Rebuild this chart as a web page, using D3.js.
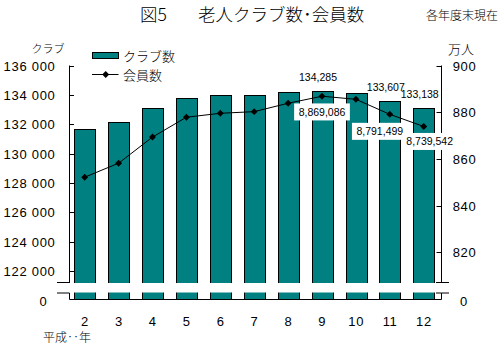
<!DOCTYPE html>
<html><head><meta charset="utf-8">
<script src="https://cdn.jsdelivr.net/npm/d3@7"></script>
<style>
html,body{margin:0;padding:0;background:#fff;}
svg{display:block;}
.num{font-family:"Liberation Sans",Arial,sans-serif;font-size:13px;letter-spacing:0.7px;fill:#000;}
.jp{font-family:"Noto Sans CJK JP",sans-serif;font-weight:300;fill:#000;}
.lab{font-family:"Liberation Sans",Arial,sans-serif;font-size:10.5px;fill:#000;}
</style></head>
<body><svg id="c" width="504" height="346"></svg>
<script>
const years = ["2","3","4","5","6","7","8","9","10","11","12"];
const clubs = [131650,132160,133095,133777,134002,134000,134216,134285,134118,133607,133138];
const members = [852.2,858.2,869.4,877.9,879.6,880.3,883.9,886.9086,885.6,879.1499,873.9542];
const leftTicks = [122000,124000,126000,128000,130000,132000,134000,136000];
const rightTicks = [820,840,860,880,900];
const clubLabels = {"9":"134,285","11":"133,607","12":"133,138"};
const memberLabels = {"9":"8,869,086","11":"8,791,499","12":"8,739,542"};

const svg = d3.select("#c");
const X0 = 69.5, X1 = 441.5, BREAK_TOP = 283, BREAK_BOT = 292.5, BASE = 299.5;

const x = d3.scaleBand().domain(years).range([67.75,440.65]).paddingInner(0.39).paddingOuter(0.195);
const yL = d3.scaleLinear().domain([122000,136000]).range([271,65.7]);
const yR = d3.scaleLinear().domain([820,900]).range([252.3,65.7]);

// Title
svg.append("text").attr("class","jp").attr("x",140).attr("y",13.5).attr("dominant-baseline","central")
  .style("font-size","17.5px").text("図5");
svg.append("text").attr("class","jp").attr("x",198).attr("y",13.5).attr("dominant-baseline","central")
  .style("font-size","17.5px").text("老人クラブ数･会員数");
svg.append("text").attr("class","jp").attr("x",498).attr("y",14).attr("text-anchor","end").attr("dominant-baseline","central")
  .style("font-size","12px").text("各年度末現在");
svg.append("text").attr("class","jp").attr("x",48).attr("y",48).attr("text-anchor","middle").attr("dominant-baseline","central")
  .style("font-size","11px").text("クラブ");
svg.append("text").attr("class","jp").attr("x",461).attr("y",48).attr("text-anchor","middle").attr("dominant-baseline","central")
  .style("font-size","13px").text("万人");

// Bars
svg.append("g").selectAll("rect").data(years).join("rect")
  .attr("x",d=>Math.round(x(d))+0.5).attr("width",Math.round(x.bandwidth()))
  .attr("y",(d,i)=>Math.round(yL(clubs[i]))+0.5)
  .attr("height",(d,i)=>BASE-(Math.round(yL(clubs[i]))+0.5))
  .attr("fill","#008080").attr("stroke","#000").attr("stroke-width",1);

// Break band
svg.append("rect").attr("x",40).attr("y",BREAK_TOP).attr("width",420).attr("height",BREAK_BOT-BREAK_TOP).attr("fill","#fff");

// Axes lines
const g = svg.append("g").attr("stroke","#000").attr("stroke-width",1).attr("fill","none");
g.append("line").attr("x1",X0).attr("x2",X0).attr("y1",65.5).attr("y2",BREAK_TOP);
g.append("line").attr("x1",57).attr("x2",X0).attr("y1",BREAK_TOP-0.5).attr("y2",BREAK_TOP-0.5);
g.append("path").attr("d",`M57,${BREAK_BOT+0.5}H${X0}V${BASE}H${X1}V${BREAK_BOT+0.5}H449`);
g.append("line").attr("x1",X1).attr("x2",X1).attr("y1",65.5).attr("y2",BREAK_TOP);
g.append("line").attr("x1",436).attr("x2",449).attr("y1",BREAK_TOP-0.5).attr("y2",BREAK_TOP-0.5);
g.append("line").attr("x1",436).attr("x2",X1).attr("y1",BREAK_BOT+0.5).attr("y2",BREAK_BOT+0.5);

// Left ticks
leftTicks.forEach(t=>{
  const yy = Math.round(yL(t))+0.5;
  g.append("line").attr("x1",X0).attr("x2",X0+4.5).attr("y1",yy).attr("y2",yy);
  svg.append("text").attr("class","num").attr("x",55.5).attr("y",yy).attr("text-anchor","end")
    .attr("dominant-baseline","central").text(d3.format(",")(t).replace(",", " "));
});
svg.append("text").attr("class","num").attr("x",43.5).attr("y",301.7).attr("text-anchor","middle").attr("dominant-baseline","central").text("0");
// Right ticks
rightTicks.forEach(t=>{
  const yy = Math.round(yR(t))+0.5;
  g.append("line").attr("x1",X1-5).attr("x2",X1).attr("y1",yy).attr("y2",yy);
  svg.append("text").attr("class","num").attr("x",452.7).attr("y",yy).attr("dominant-baseline","central").text(t);
});
svg.append("text").attr("class","num").attr("x",460).attr("y",301.7).attr("dominant-baseline","central").text("0");

// X labels
years.forEach(d=>{
  svg.append("text").attr("class","num").attr("x",x(d)+x.bandwidth()/2+0.3).attr("y",321.7)
    .attr("text-anchor","middle").attr("dominant-baseline","central").text(d);
});
svg.append("text").attr("class","jp").attr("x",43).attr("y",336.5).attr("dominant-baseline","central")
  .style("font-size","12px").text("平成‥年");

// Line
const cx = d=>x(d)+x.bandwidth()/2;
const line = d3.line().x((d,i)=>cx(years[i])).y(d=>yR(d));
svg.append("path").datum(members).attr("d",line).attr("fill","none").attr("stroke","#000").attr("stroke-width",1);
const diamond = d3.symbol().type(d3.symbolSquare).size(24);
svg.append("g").selectAll("path").data(members).join("path")
  .attr("d",diamond).attr("fill","#000")
  .attr("transform",(d,i)=>`translate(${cx(years[i])},${yR(d)}) rotate(45)`);

// Club labels
years.forEach((d,i)=>{
  if(!clubLabels[d]) return;
  svg.append("text").attr("class","lab").attr("x",cx(d)-4).attr("y",yL(clubs[i])-14)
    .attr("text-anchor","middle").attr("dominant-baseline","central").text(clubLabels[d]);
});
// Member labels with white boxes
const memberDx = {"9":0,"11":-10,"12":6};
const memberDy = {"9":15.7,"11":17,"12":15};
years.forEach((d,i)=>{
  if(!memberLabels[d]) return;
  const tx = cx(d)+memberDx[d], ty = yR(members[i])+memberDy[d];
  const t = svg.append("text").attr("class","lab").attr("x",tx).attr("y",ty)
    .attr("text-anchor","middle").attr("dominant-baseline","central").text(memberLabels[d]);
  const w = t.node().getComputedTextLength()+9;
  svg.append("rect").attr("x",tx-w/2).attr("y",ty-8.5).attr("width",w).attr("height",17).attr("fill","#fff");
  t.raise();
});

// Legend
svg.append("rect").attr("x",92.5).attr("y",52.5).attr("width",26).attr("height",6).attr("fill","#008080").attr("stroke","#000");
svg.append("text").attr("class","jp").attr("x",123).attr("y",55).attr("dominant-baseline","central").style("font-size","13px").text("クラブ数");
svg.append("line").attr("x1",92).attr("x2",118.5).attr("y1",74.5).attr("y2",74.5).attr("stroke","#000");
svg.append("path").attr("d",diamond).attr("fill","#000").attr("transform","translate(105.7,74.5) rotate(45)");
svg.append("text").attr("class","jp").attr("x",123).attr("y",74).attr("dominant-baseline","central").style("font-size","13px").text("会員数");
</script></body></html>
